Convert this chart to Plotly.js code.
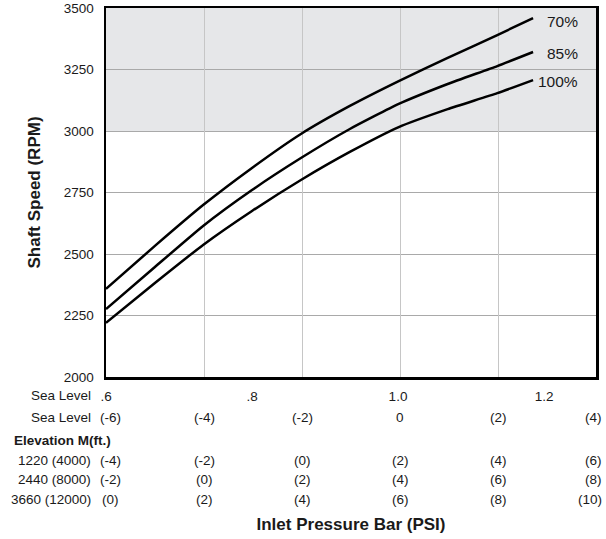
<!DOCTYPE html>
<html>
<head>
<meta charset="utf-8">
<script src="https://cdn.plot.ly/plotly-3.0.1.min.js"></script>
<style>html,body{margin:0;padding:0;background:#fff;}</style>
</head>
<body>
<div id="chart" style="width:606px;height:539px;"></div>
<script>
// Inlet pressure (bar) and shaft speed (RPM)
const seriesNames = ['70%', '85%', '100%'];
const pressureBar = [0.600, 0.667, 0.733, 0.800, 0.867, 0.934, 1.001, 1.068, 1.136, 1.185];
const rpm70 = [2358, 2533, 2699, 2850, 2988, 3102, 3203, 3297, 3390, 3459];
const rpm85 = [2276, 2447, 2614, 2760, 2890, 3008, 3110, 3191, 3264, 3321];
const rpm100 = [2220, 2382, 2537, 2675, 2801, 2915, 3016, 3089, 3154, 3207];
const labelRpm = [3445, 3315, 3203];

// Axis ticks
const barTicks = [0.6, 0.8, 1.0, 1.2];
const barTickText = ['.6', '.8', '1.0', '1.2'];
const psiColumns = [-6, -4, -2, 0, 2, 4];
const seaLevelPsi = ['(-6)', '(-4)', '(-2)', '0', '(2)', '(4)'];
const elev1220 = ['(-4)', '(-2)', '(0)', '(2)', '(4)', '(6)'];
const elev2440 = ['(-2)', '(0)', '(2)', '(4)', '(6)', '(8)'];
const elev3660 = ['(0)', '(2)', '(4)', '(6)', '(8)', '(10)'];
const rowNames = ['Sea Level', '1220 (4000)', '2440 (8000)', '3660 (12000)'];

const FONT = 'Liberation Sans, Arial, Helvetica, sans-serif';
const TXT = '#1a1a1a';

const lineStyle = {color: '#000', width: 2.5, shape: 'spline', smoothing: 0.5};
const traces = [
  {x: pressureBar, y: rpm70, name: seriesNames[0], mode: 'lines', line: lineStyle, hoverinfo: 'skip'},
  {x: pressureBar, y: rpm85, name: seriesNames[1], mode: 'lines', line: lineStyle, hoverinfo: 'skip'},
  {x: pressureBar, y: rpm100, name: seriesNames[2], mode: 'lines', line: lineStyle, hoverinfo: 'skip'},
  {x: [], y: [], xaxis: 'x2', yaxis: 'y', mode: 'lines', showlegend: false, hoverinfo: 'skip'}
];

const annotations = [];
// curve labels
seriesNames.forEach((n, i) => {
  annotations.push({xref: 'x', yref: 'y', x: 1.249, y: labelRpm[i], text: n, showarrow: false,
    xanchor: 'right', yanchor: 'middle', font: {family: FONT, size: 15.5, color: TXT}});
});
// psi rows
const psiRows = [seaLevelPsi, elev1220, elev2440, elev3660];
const rowShift = [40, 83, 102, 122];
psiRows.forEach((row, r) => {
  row.forEach((t, c) => {
    const a = {xref: 'x2', yref: 'paper', x: psiColumns[c], y: 0, yshift: -rowShift[r], text: t,
      showarrow: false, xanchor: 'center', yanchor: 'middle', font: {family: FONT, size: 13.5, color: TXT}};
    if (c === 0) a.xshift = 4.5;
    if (c === row.length - 1) { a.xanchor = 'right'; a.xshift = 8; }
    annotations.push(a);
  });
  annotations.push({xref: 'paper', yref: 'paper', x: 0, y: 0, xshift: -13, yshift: -rowShift[r],
    text: rowNames[r], showarrow: false, xanchor: 'right', yanchor: 'middle',
    font: {family: FONT, size: 13.5, color: TXT}});
});
// first "Sea Level" row label next to bar ticks
annotations.push({xref: 'paper', yref: 'paper', x: 0, y: 0, xshift: -13, yshift: -18,
  text: 'Sea Level', showarrow: false, xanchor: 'right', yanchor: 'middle',
  font: {family: FONT, size: 13.5, color: TXT}});
annotations.push({xref: 'paper', yref: 'paper', x: 0, y: 0, xshift: -94, yshift: -63,
  text: '<b>Elevation M(ft.)</b>', showarrow: false, xanchor: 'left', yanchor: 'middle',
  font: {family: FONT, size: 13.5, color: TXT}});

const layout = {
  width: 606, height: 539,
  margin: {l: 106, r: 10, t: 8, b: 162, pad: 0},
  paper_bgcolor: '#fff', plot_bgcolor: '#fff',
  showlegend: false,
  font: {family: FONT, size: 13.5, color: TXT},
  xaxis: {
    range: [0.6, 1.2712], tickvals: barTicks, ticktext: barTickText,
    showgrid: false, zeroline: false, ticks: '',
    showline: true, mirror: true, linecolor: '#000', linewidth: 2.5,
    tickfont: {family: FONT, size: 13.5, color: TXT}, ticklabelstandoff: 5,
    title: {text: '<b>Inlet Pressure Bar (PSI)</b>', font: {family: FONT, size: 17, color: TXT}, standoff: 116}
  },
  xaxis2: {
    overlaying: 'x', anchor: 'y', side: 'bottom', range: [-6, 4], tick0: -6, dtick: 2,
    showgrid: true, gridcolor: '#c6c6c6', gridwidth: 1, zeroline: false,
    showticklabels: false, ticks: '', showline: false
  },
  yaxis: {
    range: [2000, 3500], dtick: 250, tick0: 2000,
    showgrid: true, gridcolor: '#a9a9a9', gridwidth: 1, zeroline: false, ticks: '',
    showline: true, mirror: true, linecolor: '#000', linewidth: 2.5,
    tickfont: {family: FONT, size: 13.5, color: TXT}, ticklabelstandoff: 7,
    title: {text: '<b>Shaft Speed (RPM)</b>', font: {family: FONT, size: 17, color: TXT}, standoff: 19}
  },
  shapes: [{type: 'rect', xref: 'paper', yref: 'y', x0: 0, x1: 1, y0: 3000, y1: 3500,
    fillcolor: '#e6e7e9', line: {width: 0}, layer: 'below'}],
  annotations: annotations
};

Plotly.newPlot('chart', traces, layout, {displayModeBar: false, staticPlot: true});
</script>
</body>
</html>
